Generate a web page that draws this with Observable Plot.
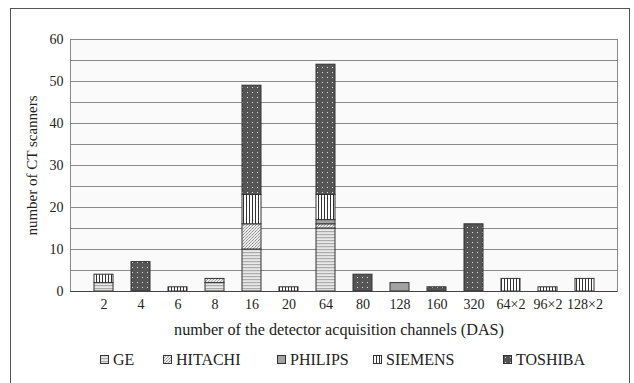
<!DOCTYPE html>
<html>
<head>
<meta charset="utf-8">
<script src="https://cdn.jsdelivr.net/npm/d3@7"></script>
<script src="https://cdn.jsdelivr.net/npm/@observablehq/plot@0.6"></script>
<style>
  html, body { margin: 0; padding: 0; background: #fff; }
  body { width: 634px; height: 383px; position: relative; overflow: hidden; font-family: "Liberation Serif", "Times New Roman", serif; }
  #frame { position: absolute; left: 10px; top: 8px; width: 620px; height: 400px; border: 1px solid #555; box-sizing: border-box; pointer-events: none; }
  #chart { position: absolute; left: 0; top: 0; }
  #legend { position: absolute; left: 0; top: 351px; width: 634px; height: 18px; font-size: 16px; color: #222; }
  #legend .item { position: absolute; top: 0; display: flex; align-items: center; gap: 3px; line-height: 18px; white-space: nowrap; }
  #legend svg { display: block; }
</style>
</head>
<body>
<div id="chart"></div>
<div id="legend"></div>
<div id="frame"></div>
<script>
const categories = ["2","4","6","8","16","20","64","80","128","160","320","64×2","96×2","128×2"];
const makers = ["GE","HITACHI","PHILIPS","SIEMENS","TOSHIBA"];
const ge      = [2,0,0,2,10,0,15,0,0,0,0,0,0,0];
const hitachi = [0,0,0,1,6,0,1,0,0,0,0,0,0,0];
const philips = [0,0,0,0,0,0,1,0,2,0,0,0,0,0];
const siemens = [2,0,1,0,7,1,6,0,0,0,0,3,1,3];
const toshiba = [0,7,0,0,26,0,31,4,0,1,16,0,0,0];
const yTicks = [0,10,20,30,40,50,60];
const gridTicks = [5,10,15,20,25,30,35,40,45,50,55];

const series = [ge, hitachi, philips, siemens, toshiba];
const rows = [];
categories.forEach((c, i) => {
  makers.forEach((m, j) => {
    if (series[j][i] > 0) rows.push({das: c, maker: m, count: series[j][i]});
  });
});

const patternIds = ["p-ge","p-hitachi","p-philips","p-siemens","p-toshiba"];
const defs = `
<defs>
  <pattern id="p-ge" width="4" height="3" patternUnits="userSpaceOnUse">
    <rect width="4" height="3" fill="#e8e8e8"/>
    <rect y="0" width="4" height="1.2" fill="#ababab"/>
  </pattern>
  <pattern id="p-hitachi" width="3" height="3" patternUnits="userSpaceOnUse">
    <rect width="3" height="3" fill="#ececec"/>
    <rect x="0" y="0" width="1" height="1" fill="#888"/>
    <rect x="2" y="1" width="1" height="1" fill="#aaa"/>
    <rect x="1" y="2" width="1" height="1" fill="#999"/>
  </pattern>
  <pattern id="p-philips" width="4" height="4" patternUnits="userSpaceOnUse">
    <rect width="4" height="4" fill="#a3a3a3"/>
  </pattern>
  <pattern id="p-siemens" width="3" height="3" patternUnits="userSpaceOnUse">
    <rect width="3" height="3" fill="#ffffff"/>
    <rect x="0" y="0" width="1" height="3" fill="#333"/>
  </pattern>
  <pattern id="p-toshiba" width="5" height="5" patternUnits="userSpaceOnUse">
    <rect width="5" height="5" fill="#555555"/>
    <rect x="2" y="2" width="1" height="1" fill="#dddddd"/>
  </pattern>
</defs>`;

const chart = Plot.plot({
  width: 634,
  height: 345,
  marginLeft: 70,
  marginRight: 17,
  marginTop: 39,
  marginBottom: 54,
  style: {fontFamily: "Liberation Serif, Times New Roman, serif", fontSize: "14px", color: "#222", background: "transparent"},
  x: {domain: categories, padding: 0.49},
  y: {domain: [0, 60]},
  color: {type: "ordinal", domain: makers, range: patternIds.map(id => `url(#${id})`)},
  marks: [
    Plot.frame({fill: "#fafafa", stroke: "#8a8a8a"}),
    Plot.ruleY(gridTicks, {stroke: "#8a8a8a", strokeWidth: 1}),
    Plot.barY(rows, Plot.stackY({x: "das", y: "count", fill: "maker", order: makers, stroke: "#333", strokeWidth: 1})),
    Plot.axisY(yTicks, {tickSize: 0, tickPadding: 7, fontSize: 14, label: "number of CT scanners", labelAnchor: "center", labelOffset: 44, labelArrow: "none"}),
    Plot.axisX({tickSize: 0, tickPadding: 8, fontSize: 14, label: "number of the detector acquisition channels (DAS)", labelAnchor: "center", labelOffset: 43, labelArrow: "none"}),
    Plot.ruleY([0], {stroke: "#444", strokeWidth: 1.2})
  ]
});
chart.insertAdjacentHTML("afterbegin", defs);
chart.querySelectorAll("[aria-label='x-axis label'] text").forEach(t => { t.style.fontSize = "16.2px"; t.setAttribute("dx", "-5"); });
chart.querySelectorAll("[aria-label='y-axis label'] text").forEach(t => { t.style.fontSize = "15px"; });
document.getElementById("chart").appendChild(chart);

const legendLefts = [100, 163, 277, 373, 503];
const legend = document.getElementById("legend");
makers.forEach((m, j) => {
  const item = document.createElement("div");
  item.className = "item";
  item.style.left = legendLefts[j] + "px";
  item.innerHTML = `<svg width="10" height="10"><rect x="0.5" y="0.5" width="8" height="8" fill="url(#${patternIds[j]})" stroke="#333" stroke-width="1"/></svg><span>${m}</span>`;
  legend.appendChild(item);
});
</script>
</body>
</html>
